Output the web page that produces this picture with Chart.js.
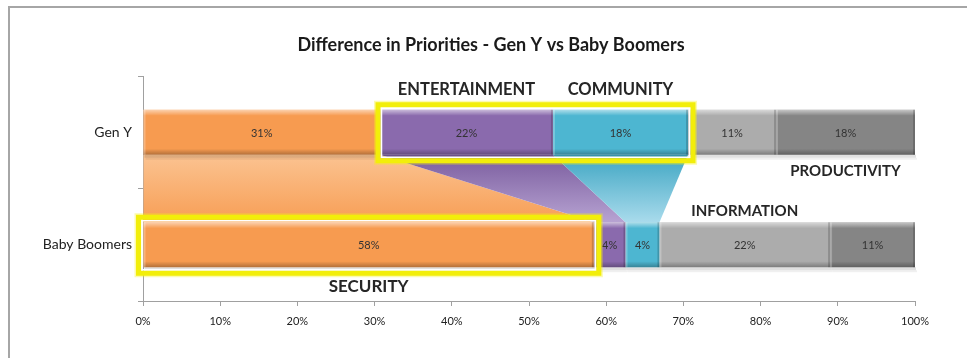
<!DOCTYPE html>
<html>
<head>
<meta charset="utf-8">
<script src="https://cdn.jsdelivr.net/npm/chart.js@4.4.1/dist/chart.umd.min.js"></script>
<style>
  html, body { margin: 0; padding: 0; background: #fff; }
  #wrap { width: 967px; height: 358px; position: relative; }
</style>
</head>
<body>
<div id="wrap"><canvas id="grafico" width="967" height="358"></canvas></div>
<script>
// DADOS
const categorias = ['Gen Y', 'Baby Boomers'];
const security = [30.7, 58.4];
const entertainment = [22.4, 4.1];
const community = [17.5, 4.4];
const information = [11.4, 22.1];
const productivity = [18.0, 11.0];
const ticksX = [0, 10, 20, 30, 40, 50, 60, 70, 80, 90, 100];
const titulo = 'Difference in Priorities - Gen Y vs Baby Boomers';

const series = [
    { nome: 'SECURITY', valores: security, cor: '#F79B50' },
    { nome: 'ENTERTAINMENT', valores: entertainment, cor: '#8A6AAD' },
    { nome: 'COMMUNITY', valores: community, cor: '#4DB6D1' },
    { nome: 'INFORMATION', valores: information, cor: '#ACACAC' },
    { nome: 'PRODUCTIVITY', valores: productivity, cor: '#858585' }
];

// cores do "funil" entre as barras (topo -> base)
const funilCores = [
    ['#FBC391', '#F79E55'],
    ['#7A5C9E', '#B7A3D2'],
    ['#3FA6C3', '#A9DBEC']
];

const FONTE = 'Lato, "Open Sans", sans-serif';

// moldura cinza e título
const molduraPlugin = {
    id: 'moldura',
    beforeDraw(chart) {
        const ctx = chart.ctx;
        ctx.save();
        ctx.strokeStyle = '#A6A6A6';
        ctx.lineWidth = 2;
        ctx.beginPath();
        ctx.moveTo(9, 380);
        ctx.lineTo(9, 7);
        ctx.lineTo(990, 7);
        ctx.stroke();

        ctx.fillStyle = '#1a1a1a';
        ctx.font = 'bold 18px ' + FONTE;
        ctx.textAlign = 'center';
        ctx.textBaseline = 'middle';
        ctx.fillText(titulo, 491, 45);
        ctx.restore();
    }
};

// funil entre Gen Y e Baby Boomers + sombra das barras
const funilPlugin = {
    id: 'funil',
    beforeDatasetsDraw(chart) {
        const ctx = chart.ctx;
        ctx.save();
        for (let i = 0; i < 3; i++) {
            const meta = chart.getDatasetMeta(i);
            const a = meta.data[0], b = meta.data[1];
            const yTopo = a.y + a.height / 2;
            const yBase = b.y - b.height / 2;
            const g = ctx.createLinearGradient(0, yTopo, 0, yBase);
            g.addColorStop(0, funilCores[i][0]);
            g.addColorStop(1, funilCores[i][1]);
            ctx.fillStyle = g;
            ctx.beginPath();
            ctx.moveTo(a.base, yTopo);
            ctx.lineTo(a.x, yTopo);
            ctx.lineTo(b.x, yBase);
            ctx.lineTo(b.base, yBase);
            ctx.closePath();
            ctx.fill();
        }
        // sombra
        chart.data.datasets.forEach((ds, i) => {
            chart.getDatasetMeta(i).data.forEach(el => {
                const y1 = el.y + el.height / 2;
                ctx.fillStyle = 'rgba(0,0,0,0.12)';
                ctx.fillRect(el.base + 1, y1, el.x - el.base, 3);
                ctx.fillStyle = 'rgba(0,0,0,0.06)';
                ctx.fillRect(el.base + 2, y1 + 3, el.x - el.base, 2);
            });
        });
        ctx.restore();
    }
};

// efeito de relevo, rótulos e anotações
const detalhesPlugin = {
    id: 'detalhes',
    afterDatasetsDraw(chart) {
        const ctx = chart.ctx;
        ctx.save();

        chart.data.datasets.forEach((ds, i) => {
            chart.getDatasetMeta(i).data.forEach((el, j) => {
                const x0 = el.base, x1 = el.x;
                const y0 = el.y - el.height / 2, y1 = el.y + el.height / 2;
                // brilho superior
                const g = ctx.createLinearGradient(0, y0, 0, y0 + 6);
                g.addColorStop(0, 'rgba(255,255,255,0.55)');
                g.addColorStop(1, 'rgba(255,255,255,0)');
                ctx.fillStyle = g;
                ctx.fillRect(x0, y0, x1 - x0, 6);
                // borda inferior escura
                const g2 = ctx.createLinearGradient(0, y1 - 6, 0, y1);
                g2.addColorStop(0, 'rgba(0,0,0,0)');
                g2.addColorStop(1, 'rgba(0,0,0,0.28)');
                ctx.fillStyle = g2;
                ctx.fillRect(x0, y1 - 6, x1 - x0, 6);
                // laterais
                ctx.fillStyle = 'rgba(255,255,255,0.25)';
                ctx.fillRect(x0, y0, 2, el.height);
                ctx.fillStyle = 'rgba(0,0,0,0.18)';
                ctx.fillRect(x1 - 2, y0, 2, el.height);

                // rótulo
                ctx.fillStyle = '#333';
                ctx.font = '11px ' + FONTE;
                ctx.textAlign = 'center';
                ctx.textBaseline = 'middle';
                ctx.fillText(Math.round(ds.data[j]) + '%', (x0 + x1) / 2, el.y + 1);
            });
        });

        // caixas amarelas de destaque
        const caixa = (xa, xb, el) => {
            const pad = 5;
            const y0 = el.y - el.height / 2 - pad, y1 = el.y + el.height / 2 + pad + 1;
            ctx.strokeStyle = 'rgba(245,240,20,0.35)';
            ctx.lineWidth = 8;
            ctx.strokeRect(xa - pad, y0, xb - xa + 2 * pad, y1 - y0);
            ctx.strokeStyle = '#F2EE0A';
            ctx.lineWidth = 5;
            ctx.strokeRect(xa - pad, y0, xb - xa + 2 * pad, y1 - y0);
            ctx.strokeStyle = '#FFFFFF';
            ctx.lineWidth = 1.5;
            ctx.strokeRect(xa - pad + 3.5, y0 + 3.5, xb - xa + 2 * pad - 7, y1 - y0 - 7);
        };
        const ent = chart.getDatasetMeta(1).data[0];
        const com = chart.getDatasetMeta(2).data[0];
        caixa(ent.base + 3, com.x, ent);
        const sec = chart.getDatasetMeta(0).data[1];
        caixa(sec.base, sec.x, sec);

        // anotações com o nome das categorias
        ctx.fillStyle = '#262626';
        ctx.textAlign = 'center';
        ctx.textBaseline = 'middle';
        const centro = (ds, j) => {
            const el = chart.getDatasetMeta(ds).data[j];
            return (el.base + el.x) / 2;
        };
        const genY = chart.getDatasetMeta(0).data[0];
        const boom = chart.getDatasetMeta(0).data[1];
        ctx.font = 'bold 16.5px ' + FONTE;
        ctx.fillText('ENTERTAINMENT', centro(1, 0), genY.y - 43);
        ctx.fillText('COMMUNITY', centro(2, 0), genY.y - 43);
        ctx.font = 'bold 15px ' + FONTE;
        ctx.fillText('PRODUCTIVITY', centro(4, 0), genY.y + 39);
        ctx.fillText('INFORMATION', centro(3, 1), boom.y - 34);
        ctx.font = 'bold 17px ' + FONTE;
        ctx.fillText('SECURITY', centro(0, 1), boom.y + 42);

        ctx.restore();
    }
};

const ctx = document.getElementById('grafico').getContext('2d');
new Chart(ctx, {
    type: 'bar',
    data: {
        labels: categorias,
        datasets: series.map(s => ({
            label: s.nome,
            data: s.valores,
            backgroundColor: s.cor,
            borderWidth: 0,
            barPercentage: 0.8,
            categoryPercentage: 0.5
        }))
    },
    options: {
        indexAxis: 'y',
        responsive: false,
        animation: false,
        layout: { padding: { left: 0, right: 52, top: 76, bottom: 0 } },
        plugins: {
            legend: { display: false },
            tooltip: { enabled: false },
            title: { display: false }
        },
        scales: {
            x: {
                stacked: true,
                min: 0,
                max: 100,
                afterFit: s => { s.height = 57; },
                afterBuildTicks: s => { s.ticks = ticksX.map(v => ({ value: v })); },
                ticks: {
                    callback: v => v + '%',
                    color: '#222',
                    font: { family: FONTE, size: 11 },
                    padding: 9
                },
                grid: { drawOnChartArea: false, tickLength: 5, color: '#A0A0A0' },
                border: { color: '#A0A0A0', width: 1 }
            },
            y: {
                stacked: true,
                afterFit: s => { s.width = 143; },
                ticks: {
                    color: '#222',
                    font: { family: FONTE, size: 14 },
                    padding: 6
                },
                grid: { offset: true, drawOnChartArea: false, tickLength: 5, color: '#A0A0A0' },
                border: { color: '#A0A0A0', width: 1 }
            }
        }
    },
    plugins: [molduraPlugin, funilPlugin, detalhesPlugin]
});
</script>
</body>
</html>
